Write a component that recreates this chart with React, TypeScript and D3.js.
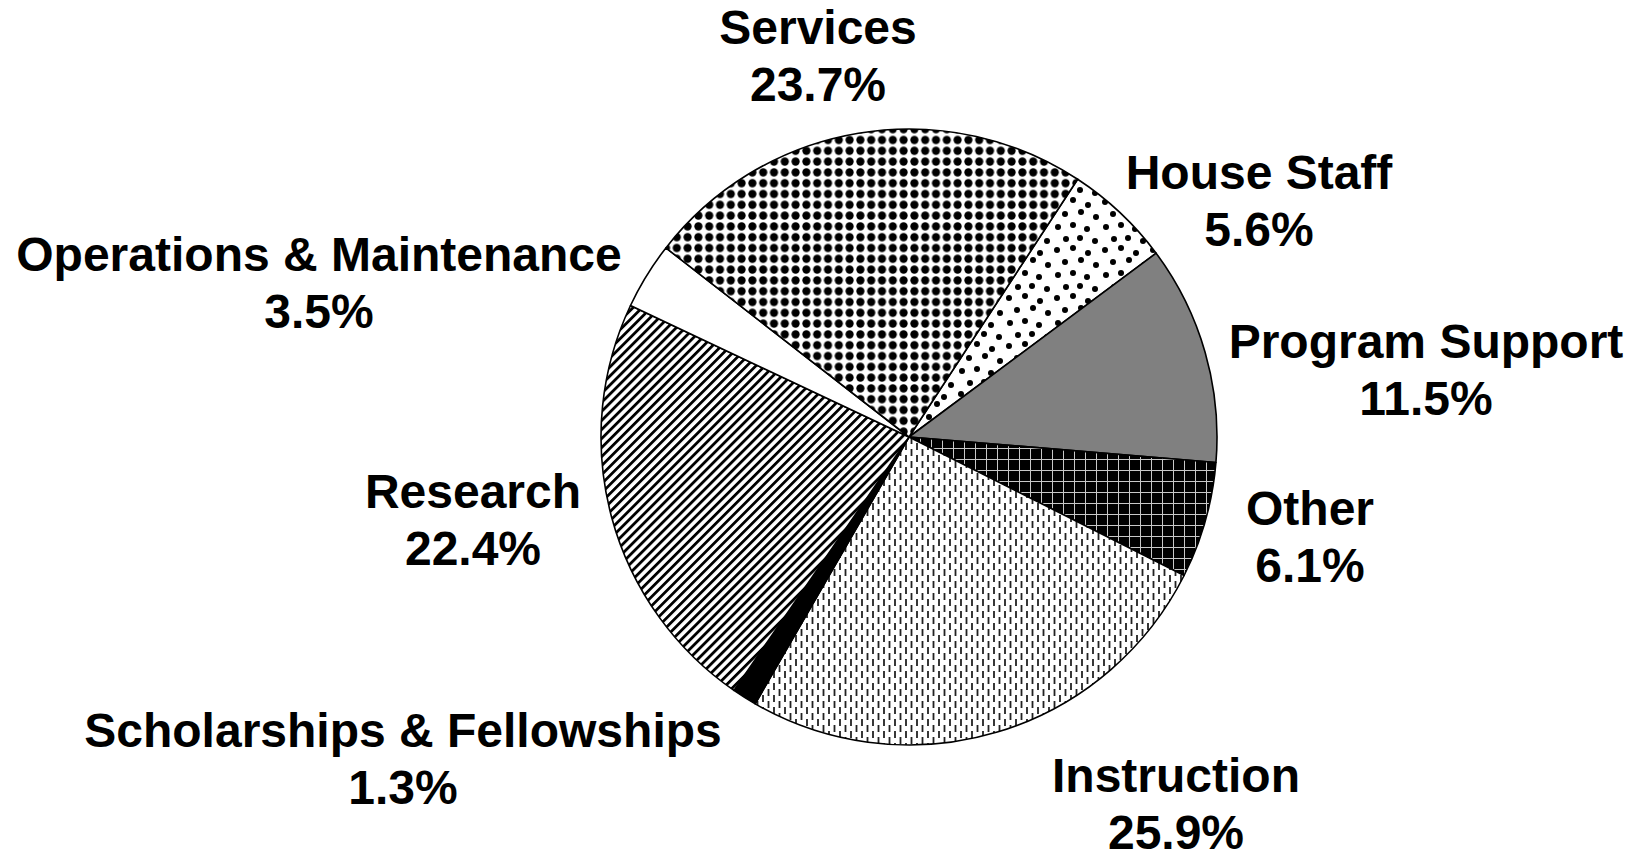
import * as d3 from "d3";
import { useEffect, useRef } from "react";

const categories = [
  "House Staff",
  "Program Support",
  "Other",
  "Instruction",
  "Scholarships & Fellowships",
  "Research",
  "Operations & Maintenance",
  "Services",
];
const shares = [5.6, 11.5, 6.1, 25.9, 1.3, 22.4, 3.5, 23.7];
const percentLabels = ["5.6%", "11.5%", "6.1%", "25.9%", "1.3%", "22.4%", "3.5%", "23.7%"];

// label anchor points (center x, first baseline) for each slice
const labelPos: [number, number][] = [
  [1259, 189],
  [1426, 358],
  [1310, 525],
  [1176, 792],
  [403, 747],
  [473, 508],
  [319, 271],
  [818, 44],
];

const fills = [
  "url(#sparseDots)",
  "#808080",
  "url(#grid)",
  "url(#dashes)",
  "#000000",
  "url(#stripes)",
  "#ffffff",
  "url(#denseDots)",
];

const width = 1650;
const height = 852;

const App = () => {
  const svgRef = useRef<SVGSVGElement>(null);

  useEffect(() => {
    const svg = d3.select(svgRef.current).attr("width", width).attr("height", height);
    svg.selectAll("*").remove();

    const defs = svg.append("defs");

    // dense dot grid
    const dd = defs
      .append("pattern")
      .attr("id", "denseDots")
      .attr("patternUnits", "userSpaceOnUse")
      .attr("width", 10.8)
      .attr("height", 10.8);
    dd.append("rect").attr("width", 10.8).attr("height", 10.8).attr("fill", "#fff");
    dd.append("circle").attr("cx", 5.4).attr("cy", 5.4).attr("r", 4.1).attr("fill", "#000");

    // scattered dots
    const sd = defs
      .append("pattern")
      .attr("id", "sparseDots")
      .attr("patternUnits", "userSpaceOnUse")
      .attr("width", 48)
      .attr("height", 48);
    sd.append("rect").attr("width", 48).attr("height", 48).attr("fill", "#fff");
    const spots = [
      [4, 5], [20, 3], [35, 8], [12, 17], [28, 15], [43, 20],
      [5, 30], [20, 28], [34, 32], [13, 42], [27, 41], [42, 44],
    ];
    sd.selectAll("circle")
      .data(spots)
      .join("circle")
      .attr("cx", (d) => d[0])
      .attr("cy", (d) => d[1])
      .attr("r", 3)
      .attr("fill", "#000");

    // black with light grid
    const gr = defs
      .append("pattern")
      .attr("id", "grid")
      .attr("patternUnits", "userSpaceOnUse")
      .attr("width", 11)
      .attr("height", 11);
    gr.append("rect").attr("width", 11).attr("height", 11).attr("fill", "#000");
    gr.append("path").attr("d", "M0.5,0V11M0,0.5H11").attr("stroke", "#c8c8c8").attr("stroke-width", 1);

    // short vertical dashes
    const da = defs
      .append("pattern")
      .attr("id", "dashes")
      .attr("patternUnits", "userSpaceOnUse")
      .attr("width", 11)
      .attr("height", 12);
    da.append("rect").attr("width", 11).attr("height", 12).attr("fill", "#fff");
    da.append("path")
      .attr("d", "M2.5,0V7M8,6V13M8,-6V1")
      .attr("stroke", "#222")
      .attr("stroke-width", 1.8);

    // diagonal stripes
    const st = defs
      .append("pattern")
      .attr("id", "stripes")
      .attr("patternUnits", "userSpaceOnUse")
      .attr("width", 10)
      .attr("height", 6.4)
      .attr("patternTransform", "rotate(-45)");
    st.append("rect").attr("width", 10).attr("height", 6.4).attr("fill", "#fff");
    st.append("rect").attr("y", 0).attr("width", 10).attr("height", 2.8).attr("fill", "#000");

    const cx = 909;
    const cy = 437;
    const radius = 308;
    const start = (33.2 * Math.PI) / 180;

    const pie = d3
      .pie<number>()
      .sort(null)
      .value((d) => d)
      .startAngle(start)
      .endAngle(start + 2 * Math.PI);

    const arc = d3.arc<d3.PieArcDatum<number>>().innerRadius(0).outerRadius(radius);

    const g = svg.append("g").attr("transform", `translate(${cx},${cy})`);

    g.selectAll("path")
      .data(pie(shares))
      .join("path")
      .attr("d", arc)
      .attr("fill", (_, i) => fills[i])
      .attr("stroke", "#000")
      .attr("stroke-width", 1.6)
      .attr("stroke-linejoin", "round");

    const labels = svg
      .append("g")
      .attr("font-family", "'Liberation Sans', Arial, sans-serif")
      .attr("font-weight", "bold")
      .attr("font-size", 48)
      .attr("text-anchor", "middle")
      .attr("fill", "#000");

    categories.forEach((name, i) => {
      const [x, y] = labelPos[i];
      const t = labels.append("text").attr("x", x).attr("y", y);
      t.append("tspan").attr("x", x).text(name);
      t.append("tspan").attr("x", x).attr("dy", 57).text(percentLabels[i]);
    });
  }, []);

  return (
    <svg
      ref={svgRef}
      style={{ position: "absolute", left: 0, top: 0, background: "#fff" }}
    />
  );
};

export default App;
